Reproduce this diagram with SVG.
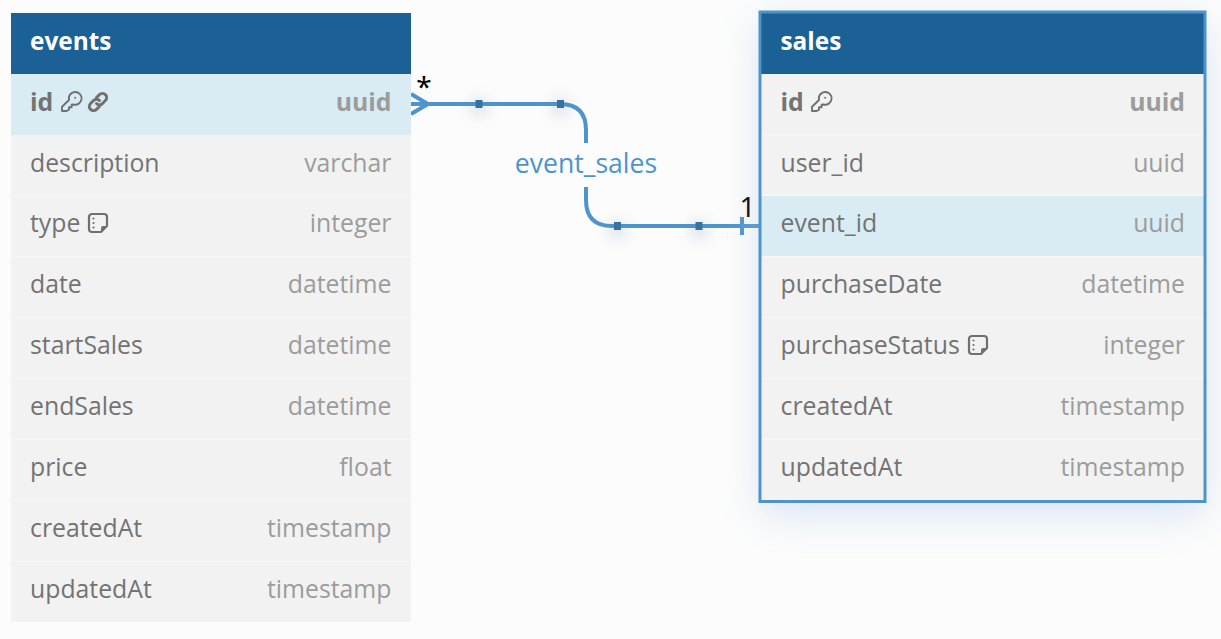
<svg xmlns="http://www.w3.org/2000/svg" width="1221" height="639" viewBox="0 0 1221 639">
<defs>
<style>
text{font-family:"Open Sans","Noto Sans",sans-serif;font-size:24.8px}
.hd{fill:#1b6196}
.row{fill:#f2f2f2}
.hl{fill:#d9ecf4}
.sep{stroke:#f8f8f8;stroke-width:1;fill:none}
text.title{fill:#fff;font-weight:700;font-size:24.4px}
.n{fill:#737373}
.t{fill:#9c9c9c;text-anchor:end}
.b{font-weight:700}
.ic{fill:none;stroke:#707070;stroke-width:1.9;stroke-linejoin:round;stroke-linecap:round}
.ic2{fill:none;stroke:#707070;stroke-width:3;stroke-linejoin:round;stroke-linecap:round}
.link{fill:none;stroke:#4d94cd;stroke-width:4}
.hdl{fill:#35729f}
text.card{fill:#000;font-family:"Noto Sans",sans-serif;font-size:28px}
text.lbl{fill:#4d94cd;font-size:26.600px;text-anchor:middle}
</style>
<filter id="sh" x="-30%" y="-30%" width="160%" height="160%"><feGaussianBlur stdDeviation="20"/></filter>
<filter id="sh2" x="-200%" y="-200%" width="500%" height="500%"><feGaussianBlur stdDeviation="7"/></filter>
<symbol id="key" viewBox="0 0 20 20" overflow="visible"><path class="ic" d="M1 19V14.700L8 8A6.400 6.400 0 1 1 12.400 12.500L10.600 12.800V15.200H8V17.600L5.600 19Z"/><circle cx="14.200" cy="5.800" r="1" fill="#707070"/></symbol>
<symbol id="lnk" viewBox="0 0 20 20" overflow="visible"><path class="ic2" d="M8.500 5.500L11.500 2.600A4 4 0 0 1 17.400 8.500L14.500 11.500A4 4 0 0 1 8.500 11.500M11.500 8.500A4 4 0 0 0 5.500 8.500L2.600 11.500A4 4 0 0 0 8.500 17.400L11.500 14.500"/></symbol>
<symbol id="note" viewBox="0 0 20 20" overflow="visible"><path class="ic2" style="stroke-width:2.200px" d="M4 1H16A3 3 0 0 1 19 4V13L13 19H4A3 3 0 0 1 1 16V4A3 3 0 0 1 4 1Z"/><path d="M19 13H15A2 2 0 0 0 13 15V19Z" fill="#707070"/><circle cx="5.500" cy="5.500" r="1.100" fill="#707070"/><circle cx="5.500" cy="10" r="1.100" fill="#707070"/><circle cx="5.500" cy="14.500" r="1.100" fill="#707070"/></symbol>
</defs>
<rect width="1221" height="639" fill="#fcfcfc"/>
<g id="connectors">
<rect x="470" y="98" width="18" height="18" fill="#7f93a6" opacity=".22" filter="url(#sh2)"/>
<rect x="551" y="98" width="18" height="18" fill="#7f93a6" opacity=".22" filter="url(#sh2)"/>
<rect x="608" y="221" width="18" height="18" fill="#7f93a6" opacity=".22" filter="url(#sh2)"/>
<rect x="690" y="221" width="18" height="18" fill="#7f93a6" opacity=".22" filter="url(#sh2)"/>
<path class="link" d="M411 104H560Q586 104 586 130V143M586 187V200Q586 226 612 226H760"/>
<path class="link" d="M411 94L428 104L411 114"/>
<path class="link" d="M742 217V235" stroke-width="3"/>
<rect x="475.500" y="100" width="7" height="8" class="hdl"/>
<rect x="557" y="100" width="7" height="8" class="hdl"/>
<rect x="614" y="222" width="7" height="8" class="hdl"/>
<rect x="695.500" y="222" width="7" height="8" class="hdl"/>
<text x="586" y="173" class="lbl">event_sales</text>
<text x="424" y="97" text-anchor="middle" class="card">*</text>
<text x="747.500" y="217" text-anchor="middle" class="card">1</text>
</g>
<g id="events">
<rect x="11" y="13" width="400" height="61" class="hd"/>
<rect x="11" y="74" width="400" height="61" class="hl"/>
<rect x="11" y="135" width="400" height="487" class="row"/>
<path class="sep" d="M11 195.500H411M11 256.500H411M11 317.500H411M11 378.500H411M11 439.500H411M11 500.500H411M11 561.500H411"/>
<text x="30" y="49.500" class="title">events</text>
<text x="30" y="110.500" class="n b">id</text><use href="#key" x="61" y="92" width="20" height="20"/><use href="#lnk" x="88" y="92" width="20" height="20"/>
<text x="391.500" y="110.500" class="t b">uuid</text>
<text x="30" y="171.500" class="n">description</text><text x="391.500" y="171.500" class="t">varchar</text>
<text x="30" y="231.500" class="n">type</text><use href="#note" x="88" y="213" width="20" height="20"/><text x="391.500" y="231.500" class="t">integer</text>
<text x="30" y="292.500" class="n">date</text><text x="391.500" y="292.500" class="t">datetime</text>
<text x="30" y="353.500" class="n">startSales</text><text x="391.500" y="353.500" class="t">datetime</text>
<text x="30" y="414.500" class="n">endSales</text><text x="391.500" y="414.500" class="t">datetime</text>
<text x="30" y="475.500" class="n">price</text><text x="391.500" y="475.500" class="t">float</text>
<text x="30" y="536.500" class="n">createdAt</text><text x="391.500" y="536.500" class="t">timestamp</text>
<text x="30" y="597.500" class="n">updatedAt</text><text x="391.500" y="597.500" class="t">timestamp</text>
</g>
<g id="sales">
<rect x="760" y="20" width="446" height="495" fill="#a9c4e6" opacity=".42" filter="url(#sh)"/>
<rect x="760" y="13" width="445" height="61" class="hd"/>
<rect x="760" y="74" width="445" height="427" class="row"/>
<rect x="760" y="196" width="445" height="60.500" class="hl"/>
<path class="sep" d="M761 135H1205M761 195.500H1205M761 256.500H1205M761 317.500H1205M761 378.500H1205M761 439.500H1205"/>
<rect x="760" y="12" width="445" height="489.500" fill="none" stroke="#4d94cd" stroke-width="3"/>
<text x="780.500" y="49.500" class="title">sales</text>
<text x="780.500" y="110.500" class="n b">id</text><use href="#key" x="811" y="92" width="20" height="20"/><text x="1185" y="110.500" class="t b">uuid</text>
<text x="780.500" y="171.500" class="n">user_id</text><text x="1185" y="171.500" class="t">uuid</text>
<text x="780.500" y="231.500" class="n">event_id</text><text x="1185" y="231.500" class="t">uuid</text>
<text x="780.500" y="292.500" class="n">purchaseDate</text><text x="1185" y="292.500" class="t">datetime</text>
<text x="780.500" y="353.500" class="n">purchaseStatus</text><use href="#note" x="968" y="335" width="20" height="20"/><text x="1185" y="353.500" class="t">integer</text>
<text x="780.500" y="414.500" class="n">createdAt</text><text x="1185" y="414.500" class="t">timestamp</text>
<text x="780.500" y="475.500" class="n">updatedAt</text><text x="1185" y="475.500" class="t">timestamp</text>
</g>
</svg>
